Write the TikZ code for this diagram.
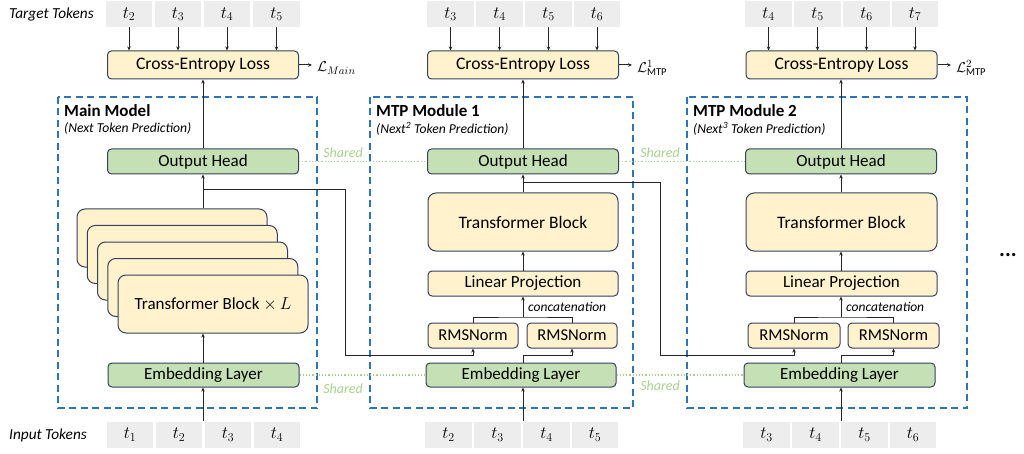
\documentclass[tikz,border=0pt]{standalone}
\usepackage{fontspec}
\setmainfont{Carlito}
\usetikzlibrary{arrows.meta,calc}
\definecolor{yfill}{HTML}{FFF2CC}
\definecolor{gfill}{HTML}{C5E0B4}
\definecolor{bcol}{HTML}{34405E}
\definecolor{tokc}{HTML}{EDEDED}
\definecolor{dblue}{HTML}{2E75B6}
\definecolor{sgreen}{HTML}{A9D18E}
\definecolor{lcol}{HTML}{262626}
\tikzset{
  base/.style={draw=bcol, line width=1pt, rounded corners=4pt, inner sep=0pt, text=black},
  ybox/.style={base, fill=yfill, font=\fontsize{17}{20}\selectfont},
  gbox/.style={base, fill=gfill, font=\fontsize{17}{20}\selectfont},
  tok/.style={fill=tokc, minimum width=46.5pt, minimum height=26pt, inner sep=0pt, font=\fontsize{17}{19}\selectfont},
  arr/.style={draw=lcol, line width=1pt, -{Stealth[length=4pt,width=3.5pt]}},
  ln/.style={draw=lcol, line width=1pt},
  mod/.style={draw=dblue, line width=1.6pt, dash pattern=on 7pt off 4.5pt},
  shr/.style={draw=sgreen, line width=1.1pt, dash pattern=on 1.2pt off 2pt},
  shl/.style={text=sgreen, font=\fontsize{14}{16}\selectfont\itshape, inner sep=0pt},
  ttl/.style={font=\fontsize{17}{19}\selectfont\bfseries, anchor=west, inner sep=0pt},
  sub/.style={font=\fontsize{13.6}{15}\selectfont\itshape, anchor=west, inner sep=0pt},
  lbl/.style={font=\fontsize{15.3}{17}\selectfont\itshape, anchor=west, inner sep=0pt},
  cat/.style={anchor=west, inner sep=0pt, font=\fontsize{13.5}{15}\selectfont\itshape},
  loss/.style={anchor=west, inner sep=0pt, font=\fontsize{15}{18}\selectfont},
}
\begin{document}
\begin{tikzpicture}[x=1pt,y=-1pt]
\useasboundingbox (0,0) rectangle (1024,454);

% module frames
\draw[mod] (58,97) rectangle (317,408);
\draw[mod] (370,97) rectangle (633,408);
\draw[mod] (687,97) rectangle (967,408);

\node[ttl] (t1) at (64,111) {Main Model};
\node[sub] (s1) at (64,128.5) {(Next Token Prediction)};
\node[ttl] (t2) at (376,111) {MTP Module 1};
\node[sub] (s2) at (376,128.5) {(Next\textsuperscript{2} Token Prediction)};
\node[ttl] (t3) at (693,111) {MTP Module 2};
\node[sub] (s3) at (693,128.5) {(Next\textsuperscript{3} Token Prediction)};

% row labels
\node[lbl] (tt) at (9,15) {Target Tokens};
\node[lbl] (it) at (9,435) {Input Tokens};

% target tokens
\node[tok] (a1) at (129,14) {$t_2$};
\node[tok] (a2) at (178,14) {$t_3$};
\node[tok] (a3) at (227,14) {$t_4$};
\node[tok] (a4) at (276.5,14) {$t_5$};
\node[tok] (b1) at (450.5,14) {$t_3$};
\node[tok] (b2) at (499.5,14) {$t_4$};
\node[tok] (b3) at (548.5,14) {$t_5$};
\node[tok] (b4) at (597,14) {$t_6$};
\node[tok] (c1) at (768.5,14) {$t_4$};
\node[tok] (c2) at (817.5,14) {$t_5$};
\node[tok] (c3) at (866.5,14) {$t_6$};
\node[tok] (c4) at (915,14) {$t_7$};

% input tokens
\node[tok] (i1) at (130,434.5) {$t_1$};
\node[tok] (i2) at (179,434.5) {$t_2$};
\node[tok] (i3) at (228,434.5) {$t_3$};
\node[tok] (i4) at (277,434.5) {$t_4$};
\node[tok] (j1) at (448.5,434.5) {$t_2$};
\node[tok] (j2) at (497.5,434.5) {$t_3$};
\node[tok] (j3) at (546.5,434.5) {$t_4$};
\node[tok] (j4) at (595,434.5) {$t_5$};
\node[tok] (k1) at (766.5,434.5) {$t_3$};
\node[tok] (k2) at (815.5,434.5) {$t_4$};
\node[tok] (k3) at (864.5,434.5) {$t_5$};
\node[tok] (k4) at (913,434.5) {$t_6$};

% cross entropy
\node[ybox, minimum width=191pt, minimum height=28pt, font=\fontsize{17.6}{20}\selectfont] (ce1) at (203,65) {Cross-Entropy Loss};
\node[ybox, minimum width=191pt, minimum height=28pt, font=\fontsize{17.6}{20}\selectfont] (ce2) at (523,65) {Cross-Entropy Loss};
\node[ybox, minimum width=191pt, minimum height=28pt, font=\fontsize{17.6}{20}\selectfont] (ce3) at (841.5,65) {Cross-Entropy Loss};
\node[loss] (l1) at (317,68) {$\mathcal{L}_{Main}$};
\node[loss] (l2) at (637,68) {$\mathcal{L}^{1}_{\mathrm{MTP}}$};
\node[loss] (l3) at (956,68) {$\mathcal{L}^{2}_{\mathrm{MTP}}$};
\coordinate (le1) at (312,65);
\coordinate (le2) at (632,65);
\coordinate (le3) at (951,65);

% output heads
\node[gbox, minimum width=191pt, minimum height=25pt] (oh1) at (203,161.5) {Output Head};
\node[gbox, minimum width=191pt, minimum height=25pt] (oh2) at (523,161.5) {Output Head};
\node[gbox, minimum width=191pt, minimum height=25pt] (oh3) at (841,161.5) {Output Head};

% main transformer stack
\foreach \k/\dx/\dy in {1/-41/-66,2/-30.75/-49.5,3/-20.5/-33,4/-10.25/-16.5}{
  \node[ybox, rounded corners=8pt, minimum width=190pt, minimum height=58pt] (sb\k) at (213+\dx,304+\dy) {};
}
\node[ybox, rounded corners=8pt, minimum width=190pt, minimum height=58pt, font=\fontsize{17}{20}\selectfont] (sf) at (213,304) {Transformer Block $\times\,L$};

% MTP transformer blocks
\node[ybox, rounded corners=8pt, minimum width=190pt, minimum height=58pt, font=\fontsize{17.5}{20}\selectfont] (tb2) at (523,222) {Transformer Block};
\node[ybox, rounded corners=8pt, minimum width=191pt, minimum height=58pt, font=\fontsize{17.5}{20}\selectfont] (tb3) at (841.5,222) {Transformer Block};
\node[ybox, minimum width=190pt, minimum height=25pt] (lp2) at (523,283.5) {Linear Projection};
\node[ybox, minimum width=191pt, minimum height=25pt] (lp3) at (841.5,283.5) {Linear Projection};
\node[ybox, minimum width=90pt, minimum height=25pt, font=\fontsize{16.6}{19}\selectfont] (rl2) at (473,335.5) {RMSNorm};
\node[ybox, minimum width=90pt, minimum height=25pt, font=\fontsize{16.6}{19}\selectfont] (rr2) at (572,335.5) {RMSNorm};
\node[ybox, minimum width=92pt, minimum height=25pt, font=\fontsize{16.6}{19}\selectfont] (rl3) at (794,335.5) {RMSNorm};
\node[ybox, minimum width=91pt, minimum height=25pt, font=\fontsize{16.6}{19}\selectfont] (rr3) at (893.5,335.5) {RMSNorm};

% embeddings
\node[gbox, minimum width=191pt, minimum height=24pt] (em1) at (203.5,375) {Embedding Layer};
\node[gbox, minimum width=190pt, minimum height=24pt] (em2) at (521,375) {Embedding Layer};
\node[gbox, minimum width=191pt, minimum height=24pt] (em3) at (839.5,375) {Embedding Layer};

% shared links
\draw[shr] (oh1.east) -- (oh2.west);
\draw[shr] (oh2.east) -- (oh3.west);
\draw[shr] (em1.east) -- (em2.west);
\draw[shr] (em2.east) -- (em3.west);
\node[shl] (sh1) at (343,153) {Shared};
\node[shl] (sh2) at (660,153) {Shared};
\node[shl] (sh3) at (343,389) {Shared};
\node[shl] (sh4) at (660,386) {Shared};

% target arrows
\foreach \n/\c in {a1/ce1,a2/ce1,a3/ce1,a4/ce1,b1/ce2,b2/ce2,b3/ce2,b4/ce2,c1/ce3,c2/ce3,c3/ce3,c4/ce3}{
  \draw[arr] (\n.south) -- (\n.south |- \c.north);
}
\draw[arr] (ce1.east) -- (le1);
\draw[arr] (ce2.east) -- (le2);
\draw[arr] (ce3.east) -- (le3);

% output head to loss
\coordinate (x1) at (203,0);
\coordinate (x2) at (523,0);
\coordinate (x3) at (841,0);
\draw[arr] (x1 |- oh1.north) -- (x1 |- ce1.south);
\draw[arr] (x2 |- oh2.north) -- (x2 |- ce2.south);
\draw[arr] (x3 |- oh3.north) -- (x3 |- ce3.south);

% main model flow
\draw[arr] (x1 |- i1.north) -- (x1 |- em1.south);
\draw[arr] (x1 |- em1.north) -- (x1 |- sf.south);
\draw[arr] (x1 |- sb1.north) -- (x1 |- oh1.south);
\coordinate (m1) at (203,190);
\coordinate (n1) at (345,355);
\draw[arr] (m1) -| (n1) -| (rl2.south);

% module 1 flow
\draw[arr] (x2 |- j2.north) -- (x2 |- em2.south);
\draw[arr] (x2 |- em2.north) -- (523,355) -| (rr2.south);
\coordinate (cc2) at (523,317);
\draw[ln] (rl2.north) |- (cc2) -| (rr2.north);
\draw[arr] (cc2) -- (x2 |- lp2.south);
\node[cat] (cn2) at (528,306.5) {concatenation};
\draw[arr] (x2 |- lp2.north) -- (x2 |- tb2.south);
\draw[arr] (x2 |- tb2.north) -- (x2 |- oh2.south);
\coordinate (m2) at (523,183);
\coordinate (n2) at (660,355);
\draw[arr] (m2) -| (n2) -| (rl3.south);

% module 2 flow
\draw[arr] (x3 |- k2.north) -- (x3 |- em3.south);
\draw[arr] (x3 |- em3.north) -- (841,355) -| (rr3.south);
\coordinate (cc3) at (841,317);
\draw[ln] (rl3.north) |- (cc3) -| (rr3.north);
\draw[arr] (cc3) -- (x3 |- lp3.south);
\node[cat] (cn3) at (846,306.5) {concatenation};
\draw[arr] (x3 |- lp3.north) -- (x3 |- tb3.south);
\draw[arr] (x3 |- tb3.north) -- (x3 |- oh3.south);

% ellipsis
\node[inner sep=0pt, font=\fontsize{22}{24}\selectfont\bfseries] (dots) at (1008,255) {...};
\end{tikzpicture}
\end{document}
